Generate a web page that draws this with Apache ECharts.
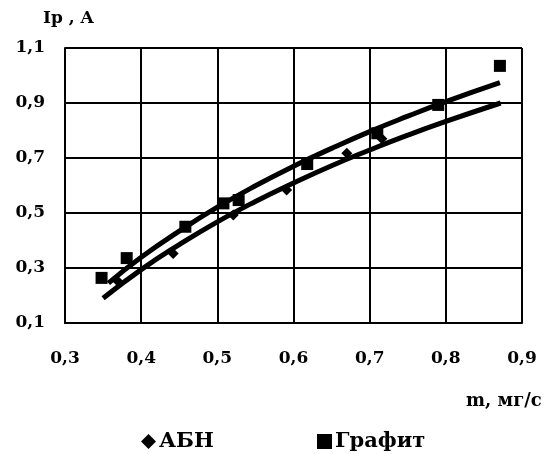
<!DOCTYPE html>
<html><head><meta charset="utf-8">
<script src="https://cdn.jsdelivr.net/npm/echarts@6/dist/echarts.min.js"></script>
<style>html,body{margin:0;padding:0;background:#fff}#c{width:553px;height:454px}</style>
</head><body><div id="c"></div>
<script>
// Data
var abnX = [0.37, 0.442, 0.521, 0.591, 0.67, 0.716];
var abnY = [0.25, 0.353, 0.493, 0.584, 0.717, 0.77];
var grafitX = [0.348, 0.381, 0.458, 0.508, 0.528, 0.618, 0.71, 0.79, 0.871];
var grafitY = [0.264, 0.336, 0.45, 0.535, 0.547, 0.678, 0.79, 0.893, 1.035];
// Trend lines
var trendAbnX = [0.35, 0.4, 0.45, 0.5, 0.55, 0.6, 0.65, 0.7, 0.75, 0.8, 0.872];
var trendAbnY = [0.19, 0.294, 0.385, 0.468, 0.542, 0.609, 0.672, 0.729, 0.783, 0.833, 0.9];
var trendGrX = [0.357, 0.4, 0.45, 0.5, 0.55, 0.6, 0.65, 0.7, 0.75, 0.8, 0.871];
var trendGrY = [0.245, 0.339, 0.434, 0.521, 0.599, 0.67, 0.735, 0.796, 0.852, 0.905, 0.974];
var xTicks = [0.3, 0.9, 0.1];
var yTicks = [0.1, 1.1, 0.2];
var seriesNames = ['АБН', 'Графит'];
var yName = 'Ip , A';
var xName = 'm, мг/с';

function zip(a, b) { return a.map(function (v, i) { return [v, b[i]]; }); }
function fmt(v) { return (Math.round(v * 10) / 10).toFixed(1).replace('.', ','); }

var font = 'DejaVu Serif';
var legendText = { color: '#000', fontFamily: font, fontWeight: 'bold', fontSize: 21, padding: [0, 0, 0, -2] };
var chart = echarts.init(document.getElementById('c'));
chart.setOption({
  animation: false,
  backgroundColor: '#fff',
  grid: { left: 65, right: 31, top: 48, bottom: 131, show: true, borderColor: '#888', borderWidth: 1 },
  xAxis: {
    type: 'value', min: xTicks[0], max: xTicks[1], interval: xTicks[2],
    axisLine: { lineStyle: { color: '#000', width: 2 } },
    axisTick: { show: false },
    splitLine: { lineStyle: { color: '#000', width: 2 } },
    axisLabel: { formatter: fmt, color: '#000', fontFamily: font, fontWeight: 'bold', fontSize: 17, margin: 27 }
  },
  yAxis: {
    type: 'value', min: yTicks[0], max: yTicks[1], interval: yTicks[2],
    axisLine: { show: true, lineStyle: { color: '#000', width: 2 } },
    axisTick: { show: false },
    splitLine: { lineStyle: { color: '#000', width: 2 } },
    axisLabel: { formatter: fmt, color: '#000', fontFamily: font, fontWeight: 'bold', fontSize: 17, margin: 20 }
  },
  legend: [
    { data: [{ name: seriesNames[0], icon: 'diamond' }], left: 136, top: 426, itemWidth: 15, itemHeight: 15,
      textStyle: legendText },
    { data: [{ name: seriesNames[1], icon: 'rect' }], left: 312, top: 426, itemWidth: 15, itemHeight: 15,
      textStyle: legendText }
  ],
  graphic: [
    { type: 'text', left: 43, top: 10, style: { text: yName, fill: '#000', font: 'bold 17px "DejaVu Serif"' } },
    { type: 'text', left: 466, top: 392, style: { text: xName, fill: '#000', font: 'bold 18px "DejaVu Serif"' } }
  ],
  series: [
    { name: seriesNames[0] + ' trend', type: 'line', data: zip(trendAbnX, trendAbnY), smooth: true, symbol: 'none',
      lineStyle: { color: '#000', width: 5 }, z: 3 },
    { name: seriesNames[1] + ' trend', type: 'line', data: zip(trendGrX, trendGrY), smooth: true, symbol: 'none',
      lineStyle: { color: '#000', width: 5 }, z: 3 },
    { name: seriesNames[0], type: 'scatter', data: zip(abnX, abnY), symbol: 'diamond', symbolSize: 11,
      itemStyle: { color: '#000', opacity: 1 }, z: 4 },
    { name: seriesNames[1], type: 'scatter', data: zip(grafitX, grafitY), symbol: 'rect', symbolSize: 12,
      itemStyle: { color: '#000', opacity: 1 }, z: 4 }
  ]
});
</script></body></html>
